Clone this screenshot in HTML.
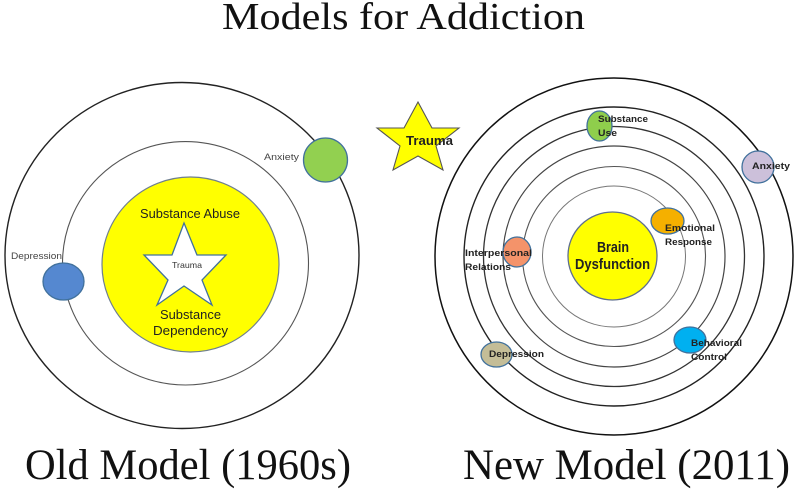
<!DOCTYPE html>
<html>
<head>
<meta charset="utf-8">
<style>
html,body{margin:0;padding:0;background:#fff;}
svg{display:block;}
</style>
</head>
<body>
<svg width="800" height="500" viewBox="0 0 800 500" xmlns="http://www.w3.org/2000/svg">
  <rect width="800" height="500" fill="#fff"/>
  <!-- Title -->
  <text x="222" y="29" font-family="Liberation Serif, serif" font-size="38" fill="#111" textLength="363" lengthAdjust="spacingAndGlyphs">Models for Addiction</text>

  <!-- OLD MODEL -->
  <ellipse cx="182" cy="255.5" rx="177" ry="173" fill="none" stroke="#222" stroke-width="1.4"/>
  <ellipse cx="185.5" cy="263.3" rx="123" ry="121.7" fill="none" stroke="#555" stroke-width="1.1"/>
  <ellipse cx="190.5" cy="264.5" rx="88.5" ry="87.5" fill="#ffff00" stroke="#6f7f8f" stroke-width="1.2"/>
  <polygon points="184,223 197,255 226,255 202,280 212,305 184,286 157,305 168,280 144,255 172,255" fill="#fff" stroke="#41719c" stroke-width="1.3" stroke-linejoin="miter"/>
  <text x="140" y="218" font-family="Liberation Sans, sans-serif" font-size="13" fill="#222" textLength="100" lengthAdjust="spacingAndGlyphs">Substance Abuse</text>
  <text x="172" y="268" font-family="Liberation Sans, sans-serif" font-size="8.5" fill="#333" textLength="30" lengthAdjust="spacingAndGlyphs">Trauma</text>
  <text x="160" y="319" font-family="Liberation Sans, sans-serif" font-size="13" fill="#222" textLength="61" lengthAdjust="spacingAndGlyphs">Substance</text>
  <text x="153" y="335" font-family="Liberation Sans, sans-serif" font-size="13" fill="#222" textLength="75" lengthAdjust="spacingAndGlyphs">Dependency</text>
  <ellipse cx="325.5" cy="160" rx="22" ry="22" fill="#92d050" stroke="#41719c" stroke-width="1.3"/>
  <text x="264" y="160" font-family="Liberation Sans, sans-serif" font-size="9.5" fill="#444" textLength="35" lengthAdjust="spacingAndGlyphs">Anxiety</text>
  <ellipse cx="63.5" cy="281.5" rx="20.5" ry="18.5" fill="#5588d0" stroke="#41719c" stroke-width="1.3"/>
  <text x="11" y="259" font-family="Liberation Sans, sans-serif" font-size="9.5" fill="#444" textLength="51" lengthAdjust="spacingAndGlyphs">Depression</text>

  <!-- NEW MODEL -->
  <ellipse cx="614" cy="256.5" rx="179" ry="178.5" fill="none" stroke="#111" stroke-width="1.5"/>
  <ellipse cx="614" cy="256.5" rx="150" ry="149.5" fill="none" stroke="#222" stroke-width="1.4"/>
  <ellipse cx="614" cy="256.5" rx="130.5" ry="130" fill="none" stroke="#333" stroke-width="1.3"/>
  <ellipse cx="614" cy="256.5" rx="111" ry="110.5" fill="none" stroke="#444" stroke-width="1.2"/>
  <ellipse cx="614" cy="256.5" rx="91.5" ry="90" fill="none" stroke="#555" stroke-width="1.1"/>
  <ellipse cx="614" cy="256.5" rx="71.5" ry="70.5" fill="none" stroke="#777" stroke-width="1"/>
  <ellipse cx="612.5" cy="256" rx="44.5" ry="44" fill="#ffff00" stroke="#5f6f8f" stroke-width="1.3"/>
  <text x="597" y="252" font-family="Liberation Sans, sans-serif" font-size="15" font-weight="bold" fill="#222" textLength="32" lengthAdjust="spacingAndGlyphs">Brain</text>
  <text x="575" y="269" font-family="Liberation Sans, sans-serif" font-size="15" font-weight="bold" fill="#222" textLength="75" lengthAdjust="spacingAndGlyphs">Dysfunction</text>

  <!-- Trauma star -->
  <polygon points="418,102 432,128 459,128 436,146 443,170 418,156 393,170 400,146 377,128 404,128" fill="#ffff00" stroke="#555" stroke-width="1.1"/>
  <text x="406" y="145" font-family="Liberation Sans, sans-serif" font-size="12.5" font-weight="bold" fill="#222" textLength="47" lengthAdjust="spacingAndGlyphs">Trauma</text>

  <!-- small circles -->
  <ellipse cx="599.5" cy="126" rx="12.5" ry="15" fill="#8fce4c" stroke="#41719c" stroke-width="1.3"/>
  <text x="598" y="122" font-family="Liberation Sans, sans-serif" font-size="9.5" font-weight="bold" fill="#222" textLength="50" lengthAdjust="spacingAndGlyphs">Substance</text>
  <text x="598" y="136" font-family="Liberation Sans, sans-serif" font-size="9.5" font-weight="bold" fill="#222" textLength="19" lengthAdjust="spacingAndGlyphs">Use</text>

  <ellipse cx="758" cy="167" rx="16" ry="16" fill="#ccc0da" stroke="#41719c" stroke-width="1.3"/>
  <text x="752" y="169" font-family="Liberation Sans, sans-serif" font-size="9.5" font-weight="bold" fill="#222" textLength="38" lengthAdjust="spacingAndGlyphs">Anxiety</text>

  <ellipse cx="667.5" cy="221" rx="16.5" ry="13" fill="#f5b000" stroke="#41719c" stroke-width="1.3"/>
  <text x="665" y="231" font-family="Liberation Sans, sans-serif" font-size="9.5" font-weight="bold" fill="#222" textLength="50" lengthAdjust="spacingAndGlyphs">Emotional</text>
  <text x="665" y="245" font-family="Liberation Sans, sans-serif" font-size="9.5" font-weight="bold" fill="#222" textLength="47" lengthAdjust="spacingAndGlyphs">Response</text>

  <ellipse cx="517" cy="252" rx="14" ry="15" fill="#f4936a" stroke="#41719c" stroke-width="1.3"/>
  <text x="465" y="256" font-family="Liberation Sans, sans-serif" font-size="9.5" font-weight="bold" fill="#222" textLength="67" lengthAdjust="spacingAndGlyphs">Interpersonal</text>
  <text x="465" y="270" font-family="Liberation Sans, sans-serif" font-size="9.5" font-weight="bold" fill="#222" textLength="46" lengthAdjust="spacingAndGlyphs">Relations</text>

  <ellipse cx="496.5" cy="354.5" rx="15.5" ry="12.5" fill="#c4bd97" stroke="#41719c" stroke-width="1.3"/>
  <text x="489" y="357" font-family="Liberation Sans, sans-serif" font-size="9.5" font-weight="bold" fill="#222" textLength="55" lengthAdjust="spacingAndGlyphs">Depression</text>

  <ellipse cx="690" cy="340" rx="16" ry="13" fill="#00b0f0" stroke="#41719c" stroke-width="1.3"/>
  <text x="691" y="346" font-family="Liberation Sans, sans-serif" font-size="9.5" font-weight="bold" fill="#222" textLength="51" lengthAdjust="spacingAndGlyphs">Behavioral</text>
  <text x="691" y="360" font-family="Liberation Sans, sans-serif" font-size="9.5" font-weight="bold" fill="#222" textLength="36" lengthAdjust="spacingAndGlyphs">Control</text>

  <!-- Bottom captions -->
  <text x="25" y="479" font-family="Liberation Serif, serif" font-size="43" fill="#111" textLength="326" lengthAdjust="spacingAndGlyphs">Old Model (1960s)</text>
  <text x="463" y="479" font-family="Liberation Serif, serif" font-size="43" fill="#111" textLength="327" lengthAdjust="spacingAndGlyphs">New Model (2011)</text>
</svg>
</body>
</html>
